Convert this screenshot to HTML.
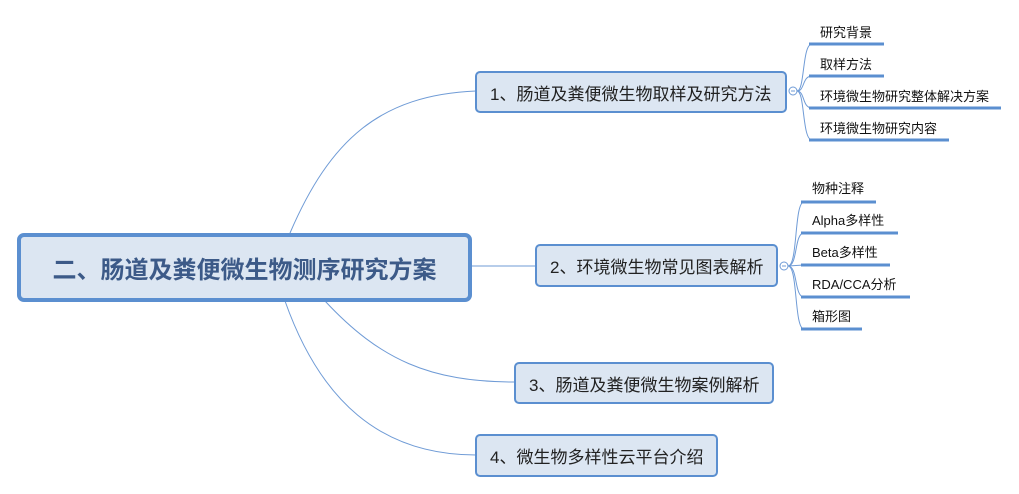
<html><head><style>
body{margin:0;width:1019px;height:494px;background:#fff;position:relative;overflow:hidden;font-family:"Liberation Sans","Noto Sans CJK SC",sans-serif}
.n{position:absolute;box-sizing:border-box;border:2px solid #5b8fd0;border-radius:5px;background:#dce6f2;color:#222;font-size:17px;display:flex;align-items:center;padding-left:13px}
.l{position:absolute;font-size:13px;color:#111}
</style></head><body>
<svg width="1019" height="494" style="position:absolute;left:0;top:0">
<g fill="none" stroke="#6f9bd6" stroke-width="1">
<path d="M290,233 C330,140 380,95 476,91"/>
<path d="M471,266 L536,266"/>
<path d="M325,301 C380,360 430,382 515,382"/>
<path d="M285,301 C320,400 380,455 476,455"/>
<path d="M797,91 C805,91 802,44 812,44"/>
<path d="M797,91 C805,91 802,76 812,76"/>
<path d="M797,91 C805,91 802,108 812,108"/>
<path d="M797,91 C805,91 802,140 812,140"/>
<path d="M788,266 C798,266 794,202 804,202"/>
<path d="M788,266 C798,266 794,233 804,233"/>
<path d="M788,266 L804,265"/>
<path d="M788,266 C798,266 794,297 804,297"/>
<path d="M788,266 C798,266 794,329 804,329"/>
<circle cx="793" cy="91" r="4" fill="#fff"/>
<circle cx="784" cy="266" r="4" fill="#fff"/>
<path d="M791,91h4M782,266h4"/>
</g>
<g stroke="#5b8fd0" stroke-width="3">
<path d="M809,44H884M809,76H884M809,108H1001M809,140H949"/>
<path d="M801,202H876M801,233H898M801,265H890M801,297H910M801,329H862"/>
</g>
</svg>
<div class="n" style="left:17px;top:233px;width:455px;height:69px;border:4px solid #5b8fd0;border-radius:7px;justify-content:center;padding:0;font-size:24px;font-weight:bold;color:#3c5a88">二、肠道及粪便微生物测序研究方案</div>
<div class="n" style="left:475px;top:71px;width:312px;height:42px">1、肠道及粪便微生物取样及研究方法</div>
<div class="n" style="left:535px;top:244px;width:243px;height:43px">2、环境微生物常见图表解析</div>
<div class="n" style="left:514px;top:362px;width:260px;height:42px">3、肠道及粪便微生物案例解析</div>
<div class="n" style="left:475px;top:434px;width:243px;height:43px">4、微生物多样性云平台介绍</div>
<div class="l" style="left:820px;top:22px">研究背景</div>
<div class="l" style="left:820px;top:54px">取样方法</div>
<div class="l" style="left:820px;top:86px">环境微生物研究整体解决方案</div>
<div class="l" style="left:820px;top:118px">环境微生物研究内容</div>
<div class="l" style="left:812px;top:178px">物种注释</div>
<div class="l" style="left:812px;top:210px">Alpha多样性</div>
<div class="l" style="left:812px;top:242px">Beta多样性</div>
<div class="l" style="left:812px;top:274px">RDA/CCA分析</div>
<div class="l" style="left:812px;top:306px">箱形图</div>
</body></html>
